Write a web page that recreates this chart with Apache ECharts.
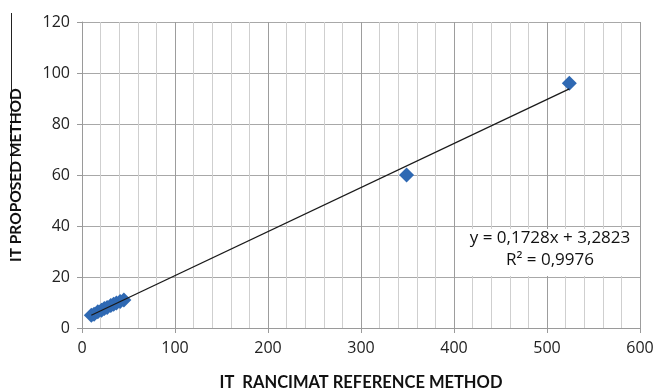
<!DOCTYPE html>
<html>
<head>
<meta charset="utf-8">
<script src="https://cdn.jsdelivr.net/npm/echarts@6/dist/echarts.min.js"></script>
<style>
  html, body { margin: 0; padding: 0; background: #fff; }
  #chart { width: 656px; height: 390px; }
</style>
</head>
<body>
<div id="chart"></div>
<script>
// measured points: Rancimat reference (x) vs proposed method (y)
const refValues = [10, 13, 17, 21, 24, 27, 31, 34, 37, 41, 45, 349, 524];
const proposedValues = [5.0, 5.4, 6.4, 7.0, 7.6, 8.0, 8.8, 9.3, 9.8, 10.4, 11.0, 60.0, 96.0];

// trend line end points
const trendX = [10, 524];
const trendY = [5.0, 93.8];

const equationLines = ['y = 0,1728x + 3,2823', 'R² = 0,9976'];

const xTicks = [0, 100, 200, 300, 400, 500, 600];
const yTicks = [0, 20, 40, 60, 80, 100, 120];

const points = refValues.map((x, i) => [x, proposedValues[i]]);
const trend = trendX.map((x, i) => [x, trendY[i]]);

const chart = echarts.init(document.getElementById('chart'));

const font = '"Open Sans", Lato, sans-serif';
const titleFont = 'Lato, "Open Sans", sans-serif';

chart.setOption({
  animation: false,
  grid: { left: 82, right: 16, top: 22, bottom: 62, outerBoundsMode: 'none', containLabel: false },
  xAxis: [{
    type: 'value',
    min: xTicks[0],
    max: xTicks[xTicks.length - 1],
    interval: 100,
    name: 'IT  RANCIMAT REFERENCE METHOD',
    nameLocation: 'middle',
    nameGap: 46,
    nameTextStyle: { fontFamily: titleFont, fontWeight: 'bold', fontSize: 16.5, color: '#111' },
    axisLine: { lineStyle: { color: '#9a9a9a', width: 1 } },
    axisTick: { show: true, length: 5, lineStyle: { color: '#9a9a9a' } },
    axisLabel: { fontFamily: font, fontSize: 16, color: '#222', margin: 12 },
    splitLine: { show: true, lineStyle: { color: '#9d9d9d', width: 1 } },
    minorTick: { show: false, splitNumber: 5 },
    minorSplitLine: { show: true, lineStyle: { color: '#cfcfcf', width: 1 } }
  }],
  yAxis: [{
    type: 'value',
    min: yTicks[0],
    max: yTicks[yTicks.length - 1],
    interval: 20,
    name: 'IT PROPOSED METHOD',
    nameLocation: 'middle',
    nameGap: 58,
    nameTextStyle: { fontFamily: titleFont, fontWeight: 'bold', fontSize: 15.5, color: '#111' },
    axisLine: { show: true, lineStyle: { color: '#9a9a9a', width: 1 } },
    axisTick: { show: true, length: 5, lineStyle: { color: '#9a9a9a' } },
    axisLabel: { fontFamily: font, fontSize: 16, color: '#222', margin: 12 },
    splitLine: { show: true, lineStyle: { color: '#a8a8a8', width: 1 } }
  }],
  series: [
    {
      type: 'scatter',
      data: points,
      symbol: 'diamond',
      symbolSize: 15,
      itemStyle: { color: '#2f69b3', opacity: 1 },
      z: 2
    },
    {
      type: 'line',
      data: trend,
      symbol: 'none',
      lineStyle: { color: '#1a1a1a', width: 1.3 },
      z: 3
    }
  ],
  graphic: [
    {
      type: 'rect',
      x: 464,
      y: 229,
      z: 10,
      shape: { x: 0, y: 0, width: 174, height: 47 },
      style: { fill: '#fff' }
    },
    {
      type: 'text',
      x: 550,
      y: 230,
      z: 11,
      style: {
        text: equationLines[0],
        fontFamily: font,
        fontSize: 17,
        fill: '#111',
        align: 'center'
      }
    },
    {
      type: 'text',
      x: 550,
      y: 252,
      z: 11,
      style: {
        text: equationLines[1],
        fontFamily: font,
        fontSize: 17,
        fill: '#111',
        align: 'center'
      }
    },
    {
      type: 'line',
      shape: { x1: 11.5, y1: 13, x2: 11.5, y2: 200 },
      style: { stroke: '#222', lineWidth: 1 }
    }
  ]
});
</script>
</body>
</html>
